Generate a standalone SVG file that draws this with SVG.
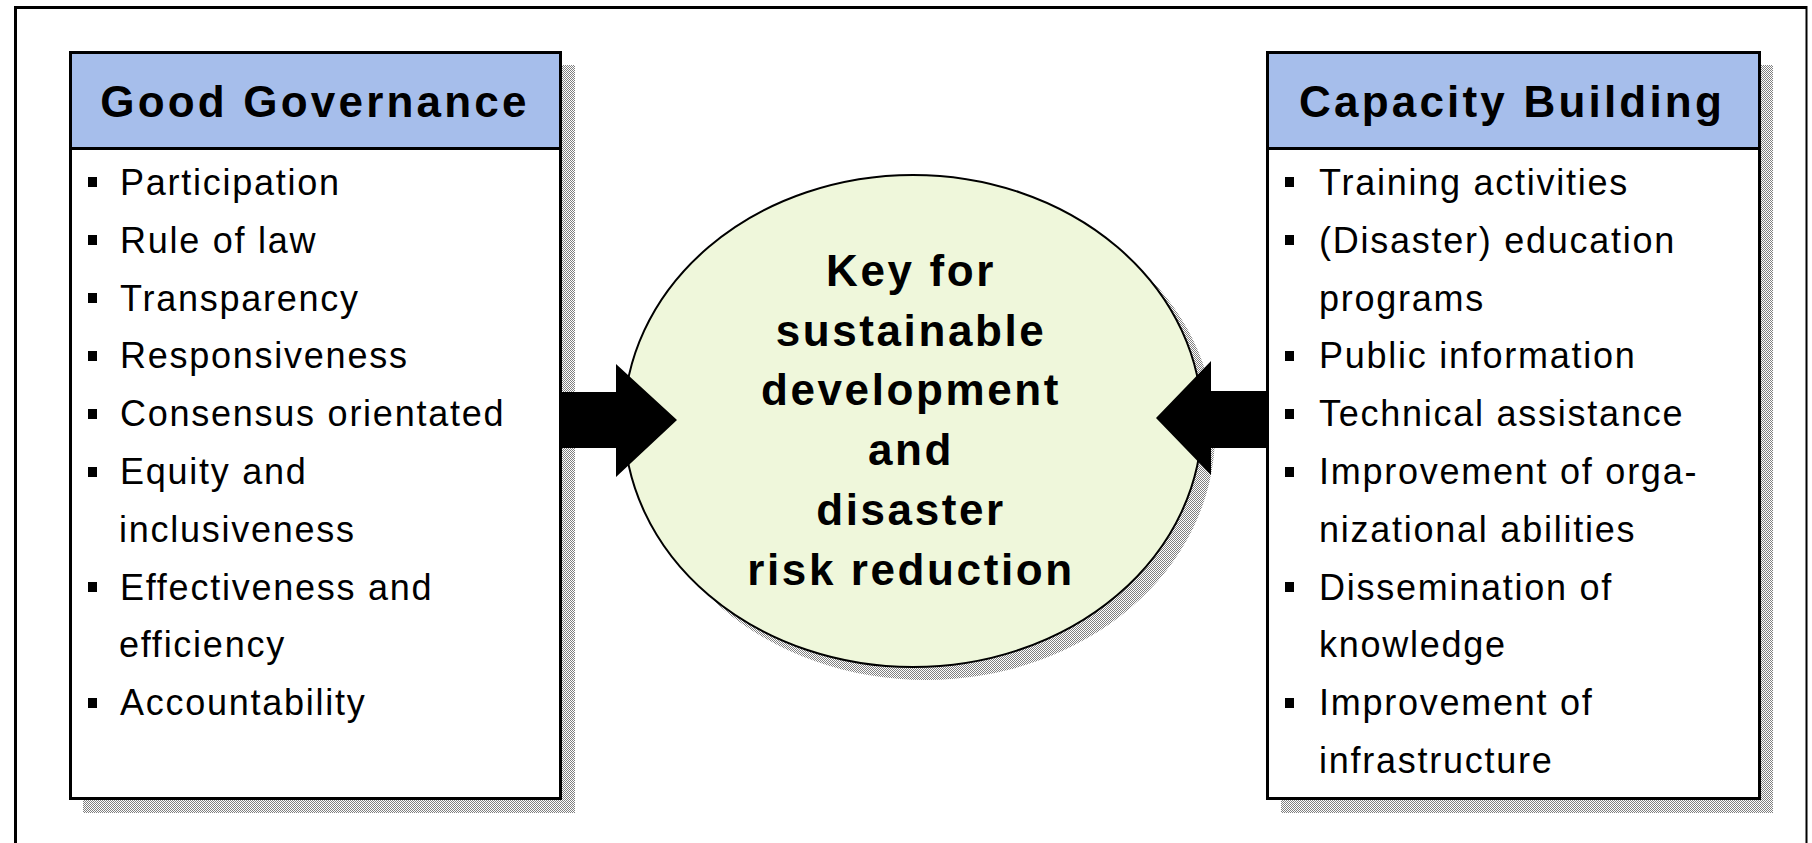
<svg xmlns="http://www.w3.org/2000/svg" width="1812" height="843" viewBox="0 0 1812 843">
<style>
.head{font-family:"Liberation Sans",Arial,sans-serif;font-weight:bold;font-size:44px;letter-spacing:3.2px;fill:#000;text-anchor:middle}
.item{font-family:"Liberation Sans",Arial,sans-serif;font-size:36px;letter-spacing:1.75px;fill:#000}
.key{font-family:"Liberation Sans",Arial,sans-serif;font-weight:bold;font-size:44px;letter-spacing:2.6px;fill:#000;text-anchor:middle}
.box{fill:#fff;stroke:#000;stroke-width:3}
.hdr{fill:#a6beeb;stroke:#000;stroke-width:3}
.shadow{fill:url(#dither)}
.bul{fill:#000}
</style>
<defs>
<pattern id="dither" width="2" height="2" patternUnits="userSpaceOnUse">
<rect width="2" height="2" fill="#fff"/>
<rect width="1" height="1" fill="#808080"/>
<rect x="1" y="1" width="1" height="1" fill="#808080"/>
</pattern>
</defs>
<rect width="1812" height="843" fill="#fff"/>
<g id="frame">
<path d="M15.5 843 V7.5 H1806" fill="none" stroke="#000" stroke-width="3"/>
<line x1="1806.5" y1="6" x2="1806.5" y2="843" stroke="#000" stroke-width="2"/>
</g>
<g id="good-governance">
<rect class="shadow" x="83" y="65" width="492" height="748"/>
<rect class="box" x="70.5" y="52.5" width="490" height="746"/>
<rect class="hdr" x="70.5" y="52.5" width="490" height="96"/>
<text class="head" x="315" y="117">Good Governance</text>
<g class="bul">
<rect x="88" y="177" width="9" height="10"/>
<rect x="88" y="235" width="9" height="10"/>
<rect x="88" y="293" width="9" height="10"/>
<rect x="88" y="351" width="9" height="10"/>
<rect x="88" y="409" width="9" height="10"/>
<rect x="88" y="467" width="9" height="10"/>
<rect x="88" y="582" width="9" height="10"/>
<rect x="88" y="698" width="9" height="10"/>
</g>
<text class="item" x="120" y="195">Participation</text>
<text class="item" x="120" y="253">Rule of law</text>
<text class="item" x="120" y="311">Transparency</text>
<text class="item" x="120" y="368">Responsiveness</text>
<text class="item" x="120" y="426">Consensus orientated</text>
<text class="item" x="120" y="484">Equity and</text>
<text class="item" x="119" y="542">inclusiveness</text>
<text class="item" x="120" y="600">Effectiveness and</text>
<text class="item" x="119" y="657">efficiency</text>
<text class="item" x="120" y="715">Accountability</text>
</g>
<g id="capacity-building">
<rect class="shadow" x="1281" y="65" width="492" height="748"/>
<rect class="box" x="1267.5" y="52.5" width="492" height="746"/>
<rect class="hdr" x="1267.5" y="52.5" width="492" height="96"/>
<text class="head" x="1512" y="117">Capacity Building</text>
<g class="bul">
<rect x="1285" y="177" width="9" height="10"/>
<rect x="1285" y="235" width="9" height="10"/>
<rect x="1285" y="351" width="9" height="10"/>
<rect x="1285" y="409" width="9" height="10"/>
<rect x="1285" y="467" width="9" height="10"/>
<rect x="1285" y="582" width="9" height="10"/>
<rect x="1285" y="698" width="9" height="10"/>
</g>
<text class="item" x="1319" y="195">Training activities</text>
<text class="item" x="1319" y="253">(Disaster) education</text>
<text class="item" x="1319" y="311">programs</text>
<text class="item" x="1319" y="368">Public information</text>
<text class="item" x="1319" y="426">Technical assistance</text>
<text class="item" x="1319" y="484">Improvement of orga-</text>
<text class="item" x="1319" y="542">nizational abilities</text>
<text class="item" x="1319" y="600">Dissemination of</text>
<text class="item" x="1319" y="657">knowledge</text>
<text class="item" x="1319" y="715">Improvement of</text>
<text class="item" x="1319" y="773">infrastructure</text>
</g>
<g id="key">
<ellipse class="shadow" cx="926" cy="434" rx="289" ry="246"/>
<ellipse cx="913" cy="421" rx="289" ry="246" fill="#eff7db" stroke="#000" stroke-width="2"/>
<text class="key" x="911" y="286">Key for</text>
<text class="key" x="911" y="346">sustainable</text>
<text class="key" x="911" y="405">development</text>
<text class="key" x="911" y="465">and</text>
<text class="key" x="911" y="525">disaster</text>
<text class="key" x="911" y="585">risk reduction</text>
</g>
<g id="connectors" fill="#000">
<polygon points="561,392 616,392 616,364 677,420 616,477 616,448 561,448"/>
<polygon points="1268,391 1211,391 1211,361 1156,418 1211,475 1211,448 1268,448"/>
</g>
</svg>
